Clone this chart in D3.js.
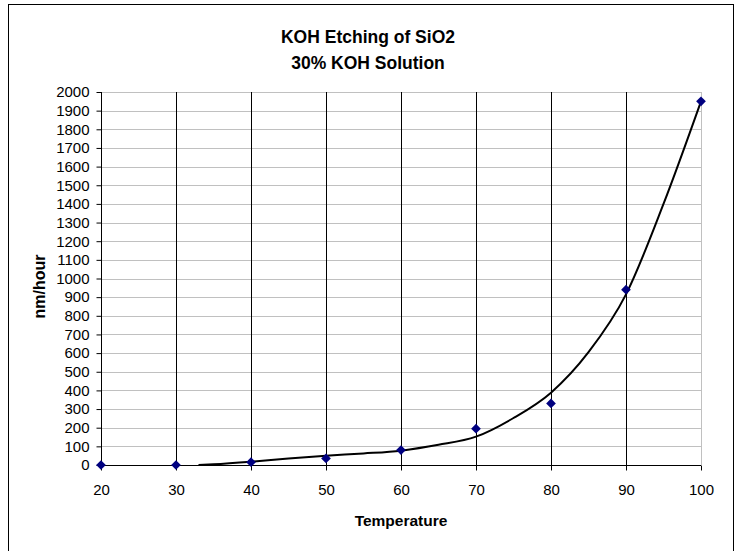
<!DOCTYPE html>
<html>
<head>
<meta charset="utf-8">
<script src="https://cdn.jsdelivr.net/npm/d3@7"></script>
<style>
  html, body { margin: 0; padding: 0; background: #fff; }
  svg { display: block; font-family: "Liberation Sans", Arial, sans-serif; }
</style>
</head>
<body>
<svg id="chart" width="735" height="551"></svg>
<script>
// Measured etch rate of SiO2 in 30% KOH versus temperature
const temperatures = [20, 30, 40, 50, 60, 70, 80, 90, 100];
const etchRates = [0, 0, 15, 35, 80, 195, 330, 940, 1950];

// Trendline through the measurements (points along the fitted curve)
const trendTemps = [33, 35, 40, 45, 50, 55, 60, 65, 70, 75, 80, 85, 90, 95, 100];
const trendRates = [0, 4, 18, 35, 50, 62, 77, 108, 152, 252, 388, 605, 915, 1400, 1950];

const xTicks = [20, 30, 40, 50, 60, 70, 80, 90, 100];
const yTicks = d3.range(0, 2001, 100);

const titleLines = ["KOH Etching of SiO2", "30% KOH Solution"];
const xTitle = "Temperature";
const yTitle = "nm/hour";

const svg = d3.select("#chart");
const W = 735, H = 551;
const plot = { left: 101, right: 701, top: 92, bottom: 465 };

// Outer chart frame
svg.append("rect")
  .attr("x", 8.5).attr("y", 4.5)
  .attr("width", W - 9 - 1).attr("height", H - 4)
  .attr("fill", "#fff").attr("stroke", "#000").attr("stroke-width", 1);

const x = d3.scaleLinear().domain([20, 100]).range([plot.left, plot.right]);
const y = d3.scaleLinear().domain([0, 2000]).range([plot.bottom, plot.top]);

// Horizontal gridlines
svg.append("g")
  .selectAll("line")
  .data(yTicks.filter(v => v > 0))
  .join("line")
  .attr("x1", plot.left).attr("x2", plot.right)
  .attr("y1", d => Math.round(y(d)) + 0.5).attr("y2", d => Math.round(y(d)) + 0.5)
  .attr("stroke", "#c0c0c0").attr("stroke-width", 1);

// Right border of plot area
svg.append("line")
  .attr("x1", Math.round(x(100)) + 0.5).attr("x2", Math.round(x(100)) + 0.5)
  .attr("y1", plot.top).attr("y2", plot.bottom)
  .attr("stroke", "#c0c0c0");

// Vertical gridlines
svg.append("g")
  .selectAll("line")
  .data(xTicks.filter(v => v > 20 && v < 100))
  .join("line")
  .attr("x1", d => Math.round(x(d)) + 0.5).attr("x2", d => Math.round(x(d)) + 0.5)
  .attr("y1", plot.top).attr("y2", plot.bottom)
  .attr("stroke", "#000").attr("stroke-width", 1);

// Axes
const xAxis = d3.axisBottom(x).tickValues(xTicks).tickSize(5).tickPadding(14).tickFormat(d3.format("d"));
const yAxis = d3.axisLeft(y).tickValues(yTicks).tickSize(5).tickPadding(7).tickFormat(d3.format("d"));

const gx = svg.append("g").attr("transform", `translate(0,${plot.bottom + 0.5})`).call(xAxis);
const gy = svg.append("g").attr("transform", `translate(${plot.left + 0.5},0)`).call(yAxis);
[gx, gy].forEach(g => {
  g.select(".domain").attr("stroke", "#000");
  g.selectAll(".tick line").attr("stroke", "#000");
  g.selectAll(".tick text").attr("fill", "#000")
    .style("font-family", "'Liberation Sans', Arial, sans-serif")
    .style("font-size", "15px");
});
gx.select(".domain").attr("d", `M${plot.left},0H${plot.right}`);
gy.select(".domain").attr("d", `M0,${plot.bottom}V${plot.top}`);

// Trendline
const trend = trendTemps.map((t, i) => [t, trendRates[i]]);
svg.append("path")
  .datum(trend)
  .attr("fill", "none")
  .attr("stroke", "#000")
  .attr("stroke-width", 2)
  .attr("d", d3.line().x(d => x(d[0])).y(d => y(d[1])).curve(d3.curveMonotoneX));

// Data markers
svg.append("g")
  .selectAll("path")
  .data(temperatures.map((t, i) => [t, etchRates[i]]))
  .join("path")
  .attr("transform", d => `translate(${x(d[0])},${y(d[1])})`)
  .attr("d", d3.symbol(d3.symbolDiamond2, 60))
  .attr("fill", "#000080");

// Titles
svg.append("g")
  .selectAll("text")
  .data(titleLines)
  .join("text")
  .attr("x", 368)
  .attr("y", (d, i) => 43 + i * 26)
  .attr("text-anchor", "middle")
  .style("font-weight", "bold")
  .style("font-size", "17.5px")
  .text(d => d);

svg.append("text")
  .attr("x", (plot.left + plot.right) / 2)
  .attr("y", 526)
  .attr("text-anchor", "middle")
  .style("font-weight", "bold")
  .style("font-size", "15.5px")
  .text(xTitle);

svg.append("text")
  .attr("transform", `translate(45,${(plot.top + plot.bottom) / 2 + 8}) rotate(-90)`)
  .attr("text-anchor", "middle")
  .style("font-weight", "bold")
  .style("font-size", "16px")
  .text(yTitle);
</script>
</body>
</html>
